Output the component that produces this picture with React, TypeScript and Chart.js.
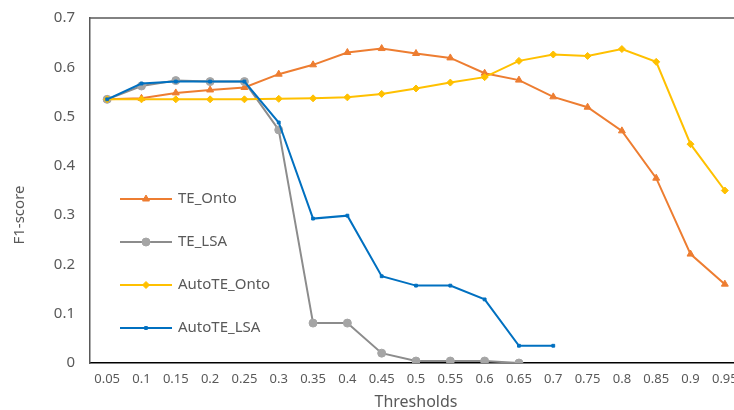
import React, { useEffect, useRef } from "react";
import { Chart, registerables } from "chart.js";
import { drawPoint } from "chart.js/helpers";

Chart.register(...registerables);

const thresholds = ["0.05","0.1","0.15","0.2","0.25","0.3","0.35","0.4","0.45","0.5","0.55","0.6","0.65","0.7","0.75","0.8","0.85","0.9","0.95"];
const teOnto = [0.535,0.537,0.548,0.554,0.559,0.586,0.605,0.630,0.638,0.628,0.619,0.588,0.574,0.540,0.519,0.471,0.375,0.221,0.160];
const teLsa = [0.535,0.562,0.573,0.571,0.571,0.473,0.081,0.081,0.020,0.004,0.004,0.004,0.0,null,null,null,null,null,null];
const autoTeOnto = [0.535,0.535,0.535,0.535,0.535,0.536,0.537,0.539,0.546,0.557,0.569,0.580,0.613,0.626,0.623,0.637,0.611,0.444,0.350];
const autoTeLsa = [0.535,0.567,0.571,0.571,0.571,0.488,0.293,0.299,0.176,0.157,0.157,0.129,0.035,0.035,null,null,null,null,null];
const yTicks = [0,0.1,0.2,0.3,0.4,0.5,0.6,0.7];
const xTitle = "Thresholds";
const yTitle = "F1-score";

const FONT = "'Noto Sans', sans-serif";
const TEXT = "#595959";

const legendPlugin = {
  id: "insideLegend",
  afterDraw(chart: any) {
    const ctx = chart.ctx;
    const x0 = 120, x1 = 172, tx = 178;
    const ys = [199, 242, 285, 328];
    ctx.save();
    chart.data.datasets.forEach((ds: any, i: number) => {
      const y = ys[i];
      ctx.strokeStyle = ds.borderColor;
      ctx.lineWidth = ds.borderWidth;
      ctx.beginPath();
      ctx.moveTo(x0, y);
      ctx.lineTo(x1, y);
      ctx.stroke();
      ctx.fillStyle = ds.pointBackgroundColor;
      ctx.strokeStyle = ds.pointBorderColor;
      ctx.lineWidth = 1;
      drawPoint(ctx, { pointStyle: ds.pointStyle, radius: ds.pointRadius, rotation: 0, borderWidth: 1 }, (x0 + x1) / 2, y);
      ctx.fillStyle = TEXT;
      ctx.font = `15px ${FONT}`;
      ctx.textAlign = "left";
      ctx.textBaseline = "middle";
      ctx.fillText(ds.label, tx, y);
    });
    const a = chart.chartArea;
    // y axis title
    ctx.translate(20, 215);
    ctx.rotate(-Math.PI / 2);
    ctx.fillStyle = TEXT;
    ctx.font = `15px ${FONT}`;
    ctx.textAlign = "center";
    ctx.textBaseline = "middle";
    ctx.fillText(yTitle, 0, 0);
    ctx.restore();
    // top border of plot area
    ctx.save();
    ctx.strokeStyle = TEXT;
    ctx.lineWidth = 1.5;
    ctx.beginPath();
    ctx.moveTo(a.left, a.top);
    ctx.lineTo(a.right, a.top);
    ctx.stroke();
    ctx.restore();
  },
};

export default function App() {
  const ref = useRef<HTMLCanvasElement>(null);
  useEffect(() => {
    if (!ref.current) return;
    const mk = (label: string, data: any[], line: string, fill: string, style: string, r: number, order: number) => ({
      label,
      data,
      borderColor: line,
      backgroundColor: fill,
      pointBackgroundColor: fill,
      pointBorderColor: fill,
      borderWidth: 2,
      pointStyle: style,
      pointRadius: r,
      pointBorderWidth: 1,
      tension: 0,
      spanGaps: false,
      order,
    });
    const chart = new Chart(ref.current, {
      type: "line",
      data: {
        labels: thresholds,
        datasets: [
          mk("TE_Onto", teOnto, "#ED7D31", "#ED7D31", "triangle", 4, 3),
          mk("TE_LSA", teLsa, "#8C8C8C", "#A5A5A5", "circle", 4, 2),
          mk("AutoTE_Onto", autoTeOnto, "#FFC000", "#FFC000", "rectRot", 3.5, 1),
          mk("AutoTE_LSA", autoTeLsa, "#0070C0", "#0070C0", "rect", 2, 0),
        ] as any,
      },
      options: {
        responsive: false,
        animation: false,
        layout: { padding: { top: 18, right: 8, left: 0, bottom: 0 } },
        plugins: { legend: { display: false }, tooltip: { enabled: false } },
        scales: {
          x: {
            offset: true,
            grid: { display: false, drawTicks: false },
            border: { display: true, color: "#000000", width: 1.5 },
            ticks: { color: TEXT, font: { family: FONT, size: 13 }, padding: 8, maxRotation: 0, autoSkip: false },
            title: { display: true, text: xTitle, color: TEXT, font: { family: FONT, size: 16, lineHeight: 1 }, padding: { top: 0, bottom: 0 } },
            afterFit: (s: any) => { s.height = 47; s.paddingLeft = 0; s.paddingRight = 0; s.paddingTop = 0; s.paddingBottom = 0; },
          },
          y: {
            min: 0,
            max: 0.7,
            afterBuildTicks: (s: any) => { s.ticks = yTicks.map((v) => ({ value: v })); },
            grid: { display: false, drawTicks: false },
            border: { display: true, color: TEXT, width: 1.5 },
            ticks: {
              color: TEXT,
              font: { family: FONT, size: 15 },
              padding: 15,
              callback: (v: any) => String(Number(Number(v).toFixed(1))),
            },
            afterFit: (s: any) => { s.width = 90; s.paddingTop = 0; s.paddingBottom = 0; s.paddingLeft = 0; s.paddingRight = 0; },
          },
        },
      },
      plugins: [legendPlugin],
    });
    return () => chart.destroy();
  }, []);
  return (
    <div style={{ position: "fixed", left: 0, top: 0, width: 734, height: 410, overflow: "hidden", background: "#fff" }}>
      <canvas ref={ref} width={750} height={410} style={{ display: "block" }} />
    </div>
  );
}
